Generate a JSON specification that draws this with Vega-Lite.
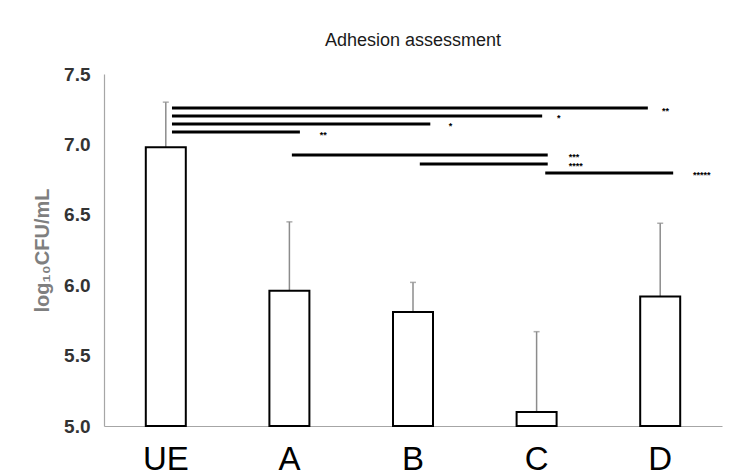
{
  "$schema": "https://vega.github.io/schema/vega-lite/v6.json",
  "width": 618,
  "height": 352,
  "autosize": {"type": "none"},
  "padding": {"left": 104, "top": 74, "right": 29, "bottom": 49},
  "background": "white",
  "config": {"view": {"stroke": null}, "font": "Liberation Sans"},
  "title": {"text": "Adhesion assessment", "fontSize": 18, "fontWeight": "normal", "color": "#1a1a1a", "offset": 15, "anchor": "middle", "font": "Liberation Sans"},
  "datasets": {
    "bars": [
      {"group": "UE", "mean": 6.98, "upper": 7.30},
      {"group": "A", "mean": 5.96, "upper": 6.45},
      {"group": "B", "mean": 5.81, "upper": 6.02},
      {"group": "C", "mean": 5.10, "upper": 5.67},
      {"group": "D", "mean": 5.92, "upper": 6.44}
    ],
    "sig": [
      {"from": 0.55, "to": 4.40, "level": 7.258, "label": "**", "at": 4.515},
      {"from": 0.55, "to": 3.545, "level": 7.202, "label": "*", "at": 3.665},
      {"from": 0.55, "to": 2.64, "level": 7.145, "label": "*", "at": 2.79},
      {"from": 0.55, "to": 1.585, "level": 7.088, "label": "**", "at": 1.745},
      {"from": 1.52, "to": 3.59, "level": 6.925, "label": "***", "at": 3.76},
      {"from": 2.555, "to": 3.59, "level": 6.861, "label": "****", "at": 3.76},
      {"from": 3.57, "to": 4.605, "level": 6.797, "label": "*****", "at": 4.765}
    ]
  },
  "layer": [
    {
      "data": {"name": "bars"},
      "encoding": {
        "x": {
          "field": "group", "type": "nominal", "sort": ["UE", "A", "B", "C", "D"],
          "scale": {"paddingInner": 0, "paddingOuter": 0},
          "axis": {"title": null, "labelAngle": 0, "labelFontSize": 33, "labelColor": "#000000", "labelPadding": 17, "ticks": false, "domainColor": "#a6a6a6", "domainWidth": 1.2, "labelFont": "Liberation Sans"}
        }
      },
      "layer": [
        {
          "mark": {"type": "rule", "color": "#8c8c8c", "strokeWidth": 1.5},
          "encoding": {
            "y": {"field": "mean", "type": "quantitative", "scale": {"domain": [5, 7.5], "zero": false, "nice": false}},
            "y2": {"field": "upper"}
          }
        },
        {
          "mark": {"type": "tick", "color": "#8c8c8c", "size": 6, "thickness": 1.5},
          "encoding": {
            "y": {"field": "upper", "type": "quantitative"}
          }
        },
        {
          "mark": {"type": "bar", "fill": "white", "stroke": "black", "strokeWidth": 2, "size": 40},
          "encoding": {
            "y": {
              "field": "mean", "type": "quantitative",
              "scale": {"domain": [5, 7.5], "zero": false, "nice": false},
              "axis": {
                "values": [5, 5.5, 6, 6.5, 7, 7.5], "format": ".1f", "grid": false, "ticks": false,
                "labelFontSize": 19, "labelFontWeight": "bold", "labelColor": "#333333", "labelPadding": 14,
                "domainColor": "#a6a6a6", "domainWidth": 1.2,
                "title": "log₁₀CFU/mL", "titleFontSize": 20, "titleFontWeight": "bold", "titleColor": "#7f7f7f", "titlePadding": 11
              }
            },
            "y2": {"datum": 5}
          }
        }
      ]
    },
    {
      "data": {"name": "sig"},
      "encoding": {
        "y": {"field": "level", "type": "quantitative", "scale": {"domain": [5, 7.5], "zero": false, "nice": false}}
      },
      "layer": [
        {
          "mark": {"type": "rule", "color": "black", "strokeWidth": 3},
          "encoding": {
            "x": {"field": "from", "type": "quantitative", "scale": {"domain": [0, 5], "nice": false, "zero": false}, "axis": null},
            "x2": {"field": "to"}
          }
        },
        {
          "mark": {"type": "text", "align": "left", "baseline": "middle", "fontSize": 9, "fontWeight": "bold", "color": "black", "dy": 2.5},
          "encoding": {
            "x": {"field": "at", "type": "quantitative", "scale": {"domain": [0, 5], "nice": false, "zero": false}, "axis": null},
            "text": {"field": "label"}
          }
        }
      ]
    }
  ],
  "resolve": {"scale": {"x": "independent"}, "axis": {"x": "independent"}}
}
